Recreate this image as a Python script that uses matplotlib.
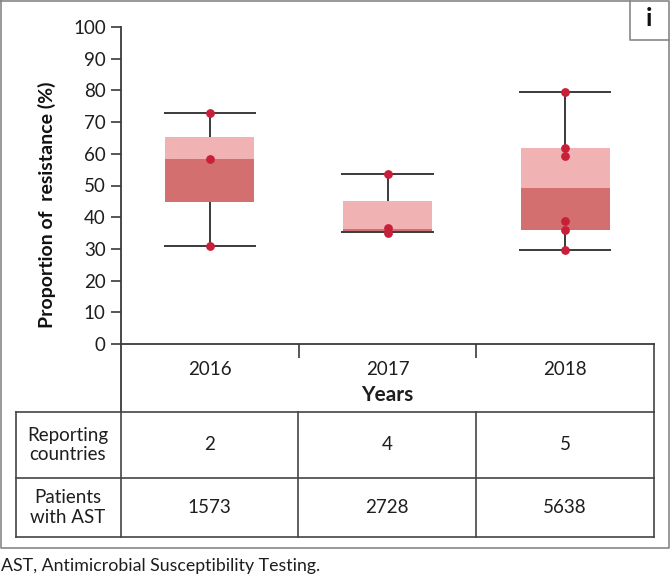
import numpy as np
import matplotlib.pyplot as plt
from matplotlib.lines import Line2D

plt.rcParams['font.family'] = ['Lato', 'DejaVu Sans']

# Box summary per year
years = ["2016", "2017", "2018"]
whisker_low = [31.0, 35.3, 29.7]
q1 = [44.8, 35.6, 35.9]
median = [58.4, 36.3, 49.1]
q3 = [65.4, 45.0, 61.8]
whisker_high = [73.0, 53.5, 79.5]

# country points
points = [
    [73.0, 58.5, 31.0],
    [53.5, 36.5, 35.1],
    [79.4, 61.7, 59.4, 38.9, 36.0, 29.6],
]

row_labels = ["Reporting\ncountries", "Patients\nwith AST"]
reporting = ["2", "4", "5"]
patients = ["1573", "2728", "5638"]

W, H = 670, 575
light = "#F0B2B2"
dark = "#D46F70"
dot = "#C8203A"
line_c = "#3a3a3a"
txt = "#1e1e1e"

fig = plt.figure(figsize=(W / 100, H / 100), dpi=100)

# overlay in pixel coordinates for frame and table
ov = fig.add_axes([0, 0, 1, 1])
ov.set_xlim(0, W)
ov.set_ylim(H, 0)
ov.axis("off")

# main axes
x0, x1, ytop, ybot = 121, 654, 27, 344
ax = fig.add_axes([x0 / W, 1 - ybot / H, (x1 - x0) / W, (ybot - ytop) / H])
ax.patch.set_alpha(0)
xs = np.arange(len(years))
bw = 0.5
ax.bar(xs, np.array(median) - np.array(q1), bottom=q1, width=bw, color=dark, zorder=2)
ax.bar(xs, np.array(q3) - np.array(median), bottom=median, width=bw, color=light, zorder=2)
ax.hlines(whisker_high, xs - 0.26, xs + 0.26, color=line_c, lw=1.4, zorder=3)
ax.hlines(whisker_low, xs - 0.26, xs + 0.26, color=line_c, lw=1.4, zorder=3)
ax.vlines(xs, q3, whisker_high, color=line_c, lw=1.4, zorder=3)
ax.vlines(xs, whisker_low, q1, color=line_c, lw=1.4, zorder=3)
for i, pts in enumerate(points):
    ax.scatter([xs[i]] * len(pts), pts, s=40, color=dot, zorder=4, linewidths=0)

ax.set_xlim(-0.5, 2.5)
ax.set_ylim(0, 100)
ax.set_yticks(np.arange(0, 101, 10))
ax.tick_params(axis="y", length=7, width=1.2, color=line_c, labelsize=13.5, pad=4, labelcolor=txt)
ax.set_xticks([0.5, 1.5])
ax.set_xticklabels([])
ax.tick_params(axis="x", which="major", length=10, width=1.2, color=line_c)
ax.set_xticks(xs, minor=True)
ax.set_xticklabels(years, minor=True)
ax.tick_params(axis="x", which="minor", length=0, pad=12, labelsize=13.5, labelcolor=txt)
for s in ["top", "right"]:
    ax.spines[s].set_visible(False)
for s in ["left", "bottom"]:
    ax.spines[s].set_color(line_c)
    ax.spines[s].set_linewidth(1.3)

ov.text(47, 205, "Proportion of  resistance (%)", rotation=90, ha="center", va="center",
        fontsize=14, fontweight="bold", color="#111")
ov.text(387, 395, "Years", ha="center", va="center", fontsize=15, fontweight="bold", color=txt)

# table lines
tc = "#444444"
lw = 1.2
cols = [16, 121, 298, 476, 654]
rows = [412, 478, 537]
ov.add_line(Line2D([121, 121], [344, 412], color=line_c, lw=1.3))
ov.add_line(Line2D([654, 654], [344, 412], color=tc, lw=lw))
for y in rows:
    ov.add_line(Line2D([16, 654], [y, y], color=tc, lw=lw))
for x in cols:
    ov.add_line(Line2D([x, x], [412, 537], color=tc, lw=lw))

centers = [(cols[i + 1] + cols[i + 2]) / 2 for i in range(3)]
row_mid = [(rows[0] + rows[1]) / 2, (rows[1] + rows[2]) / 2]
for r, (lab, vals) in enumerate(zip(row_labels, [reporting, patients])):
    ov.text(68, row_mid[r], lab, ha="center", va="center", fontsize=13.5, color=txt, linespacing=1.15)
    for c, v in zip(centers, vals):
        ov.text(c, row_mid[r], v, ha="center", va="center", fontsize=13.5, color=txt)

# outer frame and panel letter
fc = "#888888"
ov.add_line(Line2D([0.5, 669, 669, 0.5, 0.5], [0.5, 0.5, 548, 548, 0.5], color=fc, lw=1.2))
ov.add_line(Line2D([630, 630, 669], [0, 40, 40], color=fc, lw=1.2))
ov.text(649, 19, "i", ha="center", va="center", fontsize=18, fontweight="bold", color="#111")

ov.text(1, 566, "AST, Antimicrobial Susceptibility Testing.", ha="left", va="center",
        fontsize=12.8, color=txt)

fig.savefig("out.png", dpi=100)
